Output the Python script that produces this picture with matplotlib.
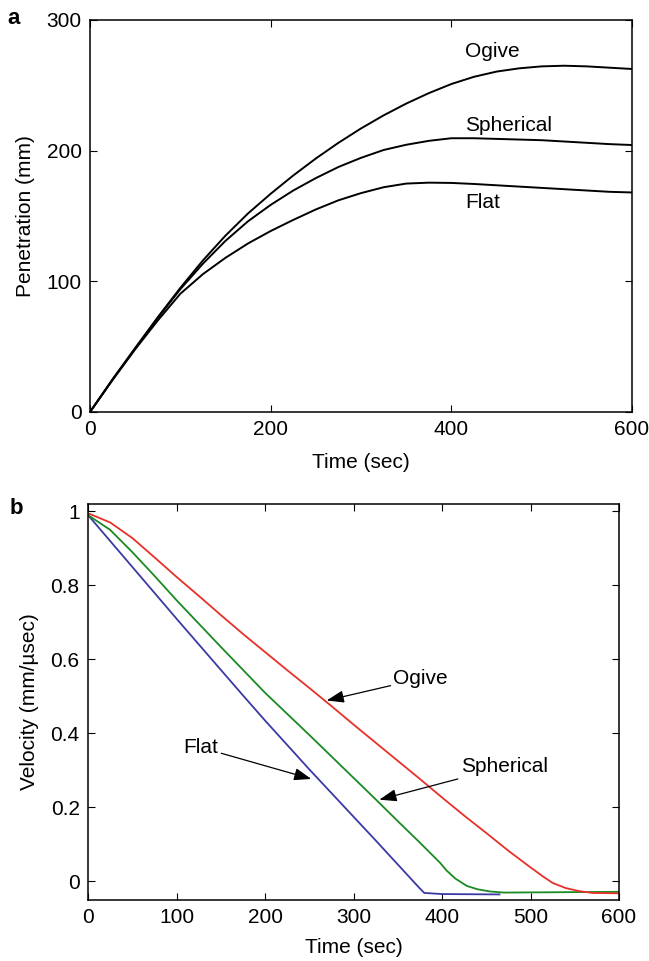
import matplotlib
matplotlib.use("Agg")
import matplotlib.pyplot as plt

plt.rcParams["font.family"] = ["Liberation Sans", "DejaVu Sans"]
plt.rcParams["font.size"] = 15

# panel a: penetration vs time
t_pen = [0, 25, 50, 75, 100, 125, 150, 175, 200, 225, 250, 275, 300,
         325, 350, 375, 400, 425, 450, 475, 500, 525, 550, 575, 600]
pen_ogive = [0, 25, 49, 72.5, 95, 116, 135, 152, 167, 181, 194, 206, 217,
             227, 236, 244, 251, 256.5, 260.5, 263, 264.5, 265, 264.5, 263.5, 262.5]
pen_spherical = [0, 25, 48.5, 72, 94, 113.5, 131, 146, 158.5, 169.5, 179, 187.5, 194.5,
                 200.5, 204.5, 207.5, 209.5, 209.5, 209, 208.5, 208, 207, 206, 205, 204.3]
pen_flat = [0, 24.5, 48, 70, 90.5, 105.5, 118, 129, 138.5, 147, 155, 162, 167.5,
            172, 174.8, 175.5, 175.3, 174.5, 173.5, 172.5, 171.5, 170.5, 169.5, 168.5, 168]

# panel b: velocity vs time
t_ogive = [0, 25, 50, 75, 100, 125, 150, 175, 200, 225, 250, 275, 300, 325, 350,
           375, 400, 425, 450, 475, 500, 515, 525, 540, 555, 570, 600]
vel_ogive = [0.995, 0.97, 0.928, 0.876, 0.823, 0.772, 0.72, 0.669, 0.62, 0.571,
             0.523, 0.474, 0.424, 0.375, 0.326, 0.277, 0.227, 0.178, 0.131, 0.083,
             0.038, 0.012, -0.004, -0.018, -0.026, -0.031, -0.032]
t_sph = [0, 25, 50, 75, 100, 125, 150, 175, 200, 225, 250, 275, 300, 325, 350,
         375, 398, 405, 415, 428, 440, 454, 470, 600]
vel_sph = [0.99, 0.95, 0.89, 0.826, 0.76, 0.697, 0.634, 0.572, 0.51, 0.453, 0.396,
           0.338, 0.28, 0.222, 0.163, 0.105, 0.05, 0.03, 0.008, -0.012, -0.021,
           -0.027, -0.03, -0.028]
t_flat = [0, 25, 50, 75, 100, 125, 150, 175, 200, 225, 250, 275, 300, 325, 350,
          375, 380, 400, 465]
vel_flat = [0.99, 0.92, 0.85, 0.78, 0.71, 0.641, 0.572, 0.503, 0.435, 0.369,
            0.303, 0.239, 0.175, 0.111, 0.046, -0.019, -0.031, -0.034, -0.035]

fig = plt.figure(figsize=(6.49, 9.61), dpi=100)

ax1 = fig.add_axes([0.1387, 0.5713, 0.8351, 0.4079])
for y in (pen_ogive, pen_spherical, pen_flat):
    ax1.plot(t_pen, y, color="black", lw=1.4)
ax1.set_xlim(0, 600)
ax1.set_ylim(0, 300)
ax1.set_xticks([0, 200, 400, 600])
ax1.set_yticks([0, 100, 200, 300])
ax1.set_xlabel("Time (sec)", labelpad=10)
ax1.set_ylabel("Penetration (mm)", labelpad=8)
ax1.text(415, 276, "Ogive", va="center")
ax1.text(415, 219, "Spherical", va="center")
ax1.text(415, 160, "Flat", va="center")

ax2 = fig.add_axes([0.1356, 0.0635, 0.8182, 0.4121])
ax2.plot(t_flat, vel_flat, color="#3a3aa6", lw=1.3)
ax2.plot(t_sph, vel_sph, color="#1a8a22", lw=1.3)
ax2.plot(t_ogive, vel_ogive, color="#e8302a", lw=1.3)
ax2.set_xlim(0, 600)
ax2.set_ylim(-0.05, 1.02)
ax2.set_xticks([0, 100, 200, 300, 400, 500, 600])
ax2.set_yticks([0, 0.2, 0.4, 0.6, 0.8, 1])
ax2.set_yticklabels(["0", "0.2", "0.4", "0.6", "0.8", "1"])
ax2.set_xlabel("Time (sec)", labelpad=8)
ax2.set_ylabel("Velocity (mm/\u00b5sec)", labelpad=8)

arrow = dict(arrowstyle="-|>,head_length=0.7,head_width=0.25", color="black",
             lw=0.9, shrinkA=0, shrinkB=0, mutation_scale=15)
ax2.annotate("Ogive", xy=(269.7, 0.489), xytext=(345, 0.548), va="center",
             arrowprops=arrow)
ax2.annotate("Spherical", xy=(329.2, 0.221), xytext=(421, 0.31), va="center",
             arrowprops=arrow)
ax2.annotate("Flat", xy=(252.3, 0.277), xytext=(108, 0.362), va="center",
             arrowprops=arrow)

for ax in (ax1, ax2):
    ax.tick_params(direction="in", top=True, right=True, length=5, width=0.8, pad=6)
    for s in ax.spines.values():
        s.set_linewidth(1.1)

fig.text(0.012, 0.981, "a", fontweight="bold", fontsize=16, va="center")
fig.text(0.014, 0.471, "b", fontweight="bold", fontsize=16, va="center")

fig.savefig("out.png", dpi=100)
